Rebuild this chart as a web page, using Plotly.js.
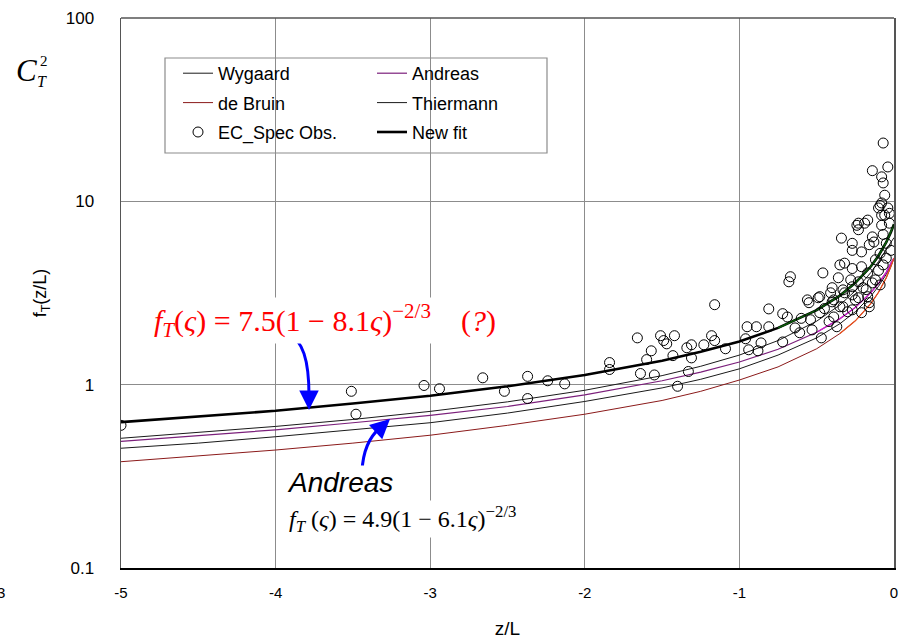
<!DOCTYPE html>
<html>
<head>
<meta charset="utf-8">
<script src="https://cdn.plot.ly/plotly-3.0.1.min.js"></script>
<style>html,body{margin:0;padding:0;background:#fff;}#chart{width:906px;height:641px;}</style>
</head>
<body>
<div id="chart"></div>
<script>
// z/L sample positions for the model curves
const curveX = [-5, -4.5, -4, -3.5, -3, -2.5, -2, -1.5, -1.25, -1, -0.75, -0.5, -0.35, -0.25, -0.15, -0.1, -0.05, -0.02, 0];
// Curves
const wygaardY   = [0.45, 0.48, 0.52, 0.566, 0.62, 0.70, 0.81, 0.96, 1.07, 1.22, 1.45, 1.80, 2.15, 2.50, 3.04, 3.44, 4.0, 4.49, 4.9];
const andreasY   = [0.49, 0.526, 0.567, 0.62, 0.68, 0.76, 0.88, 1.05, 1.17, 1.33, 1.56, 1.93, 2.29, 2.64, 3.18, 3.57, 4.1, 4.6, 4.9];
const deBruinY   = [0.38, 0.41, 0.44, 0.48, 0.53, 0.60, 0.69, 0.82, 0.92, 1.06, 1.25, 1.57, 1.90, 2.23, 2.77, 3.19, 3.83, 4.39, 4.9];
const thiermannY = [0.51, 0.547, 0.592, 0.646, 0.715, 0.806, 0.932, 1.12, 1.26, 1.45, 1.74, 2.22, 2.72, 3.25, 4.09, 4.70, 5.49, 6.01, 6.34];
const newFitY    = [0.625, 0.67, 0.72, 0.79, 0.87, 0.98, 1.13, 1.35, 1.51, 1.72, 2.04, 2.55, 3.06, 3.59, 4.41, 5.05, 5.98, 6.79, 7.5];

// EC_Spec observations
const obsX = [-5.00,-3.51,-3.48,-3.04,-2.94,-2.66,-2.52,-2.37,-2.37,-2.24,-2.13,-1.84,-1.84,-1.66,-1.57,-1.60,-1.64,-1.55,-1.51,-1.49,
  -1.42,-1.47,-1.43,-1.16,-1.34,-1.31,-1.31,-1.33,-1.40,-1.23,-1.18,-1.16,-1.09,-0.95,-0.96,-0.89,-0.81,-0.81,-0.86,-0.88,
  -0.94,-0.72,-0.69,-0.68,-0.67,-0.72,-0.64,-0.61,-0.55,-0.54,-0.53,-0.48,-0.47,-0.48,-0.41,-0.42,-0.37,-0.40,-0.35,-0.32,
  -0.27,-0.23,-0.16,-0.21,-0.14,-0.56,-0.49,-0.39,-0.33,-0.39,-0.27,-0.17,-0.09,-0.46,-0.35,-0.32,-0.27,-0.21,-0.17,-0.36,
  -0.28,-0.23,-0.12,-0.07,-0.40,-0.33,-0.27,-0.20,-0.34,-0.27,-0.27,-0.21,-0.16,-0.14,-0.07,-0.09,-0.05,-0.23,-0.19,-0.23,
  -0.08,-0.03,-0.17,-0.24,-0.09,-0.04,-0.06,-0.07,-0.14,-0.04,-0.08,-0.07,-0.06,-0.08,-0.10,-0.03,-0.08,-0.12,-0.05,-0.02,
  -0.10,-0.18,-0.25,-0.30,-0.45,-0.60,-0.16,-0.13];
const obsY = [0.60,0.92,0.69,0.99,0.95,1.09,0.92,1.11,0.84,1.05,1.01,1.32,1.21,1.80,1.53,1.37,1.15,1.13,1.85,1.74,
  1.85,1.67,1.44,2.73,1.59,1.65,1.40,1.18,0.98,1.65,1.85,1.74,1.57,2.07,1.78,2.07,2.59,2.07,1.69,1.53,
  1.55,2.44,2.34,3.64,3.88,1.71,2.04,1.92,2.80,2.26,1.99,3.02,1.80,2.47,3.17,2.21,2.07,2.83,2.66,3.17,
  3.42,2.98,2.80,2.47,3.59,2.90,2.98,2.90,2.66,2.34,2.56,3.02,3.50,4.07,4.50,4.60,4.30,4.40,4.07,3.83,
  3.73,3.64,3.73,4.50,3.38,3.29,3.09,3.38,6.30,5.90,5.40,5.30,5.80,6.40,6.60,5.20,5.90,7.60,7.60,7.00,
  7.40,7.60,7.90,7.40,9.50,9.20,8.40,20.8,14.7,15.4,13.6,12.6,10.8,9.8,9.2,8.6,8.4,4.8,4.9,5.4,
  4.2,3.3,2.9,2.5,2.6,2.3,2.66,6.0];

const xTicks = [-5, -4, -3, -2, -1, 0];
const yTicks = [0.1, 1, 10, 100];
const yTickText = ['0.1', '1', '10', '100'];

function tail(arr, from) { return arr.filter((v, i) => curveX[i] >= from); }

const traces = [
  {x: curveX, y: wygaardY, mode: 'lines', name: 'Wygaard', line: {color: '#1a1a1a', width: 1}, legend: 'legend', legendgroup: 'a'},
  {x: curveX, y: deBruinY, mode: 'lines', name: 'de Bruin', line: {color: '#8b1a1a', width: 1}, legend: 'legend', legendgroup: 'b'},
  {x: curveX, y: andreasY, mode: 'lines', name: 'Andreas', line: {color: '#7b1f7b', width: 1.2}, legend: 'legend2', legendgroup: 'd'},
  {x: curveX, y: thiermannY, mode: 'lines', name: 'Thiermann', line: {color: '#1a1a1a', width: 1}, legend: 'legend2', legendgroup: 'e'},
  {x: curveX, y: newFitY, mode: 'lines', name: 'New fit', line: {color: '#000', width: 2.6}, legend: 'legend2', legendgroup: 'f'},
  {x: tail(curveX, -0.8), y: tail(newFitY, -0.8), mode: 'lines', showlegend: false, line: {color: '#0a5a0a', width: 1.6}, hoverinfo: 'skip'},
  {x: tail(curveX, -0.6), y: tail(andreasY, -0.6), mode: 'lines', showlegend: false, line: {color: '#d21ad2', width: 1.2}, hoverinfo: 'skip'},
  {x: tail(curveX, -0.35), y: tail(deBruinY, -0.35), mode: 'lines', showlegend: false, line: {color: '#e8501e', width: 1.2}, hoverinfo: 'skip'},
  {x: obsX, y: obsY, mode: 'markers', name: 'EC_Spec Obs.', marker: {symbol: 'circle-open', size: 10, color: '#000', line: {width: 1}}, legend: 'legend', legendgroup: 'c'}
];

const px = v => (v - 121) / 773;
const py = v => (568 - v) / 550;
const serif = 'Liberation Serif, Times New Roman, serif';

function note(x, y, text, font, extra) {
  return Object.assign({xref: 'paper', yref: 'paper', x: px(x), y: py(y), xanchor: 'center', yanchor: 'middle',
    showarrow: false, text: text, font: font}, extra || {});
}

const layout = {
  width: 906, height: 641,
  margin: {l: 121, r: 12, t: 18, b: 73},
  paper_bgcolor: '#fff', plot_bgcolor: '#fff',
  font: {family: 'Liberation Sans, Arial, sans-serif', color: '#000'},
  xaxis: {
    range: [-5, 0], tickvals: xTicks, ticktext: xTicks.map(String),
    showgrid: true, gridcolor: '#8c8c8c', gridwidth: 1, zeroline: false,
    showline: true, linecolor: '#000', linewidth: 2,
    ticks: 'outside', ticklen: 10, tickcolor: 'rgba(0,0,0,0)',
    tickfont: {family: 'Liberation Sans Narrow, Arial Narrow, Liberation Sans, Arial', size: 15},
    title: {text: 'z/L', font: {family: 'Liberation Sans Narrow, Arial Narrow, Liberation Sans', size: 19}, standoff: 22}
  },
  yaxis: {
    type: 'log', range: [-1, 2], tickvals: yTicks, ticktext: yTickText,
    showgrid: true, gridcolor: '#8c8c8c', gridwidth: 1, zeroline: false,
    showline: true, linecolor: '#555', linewidth: 1.5, mirror: true,
    ticks: 'outside', ticklen: 22, tickcolor: 'rgba(0,0,0,0)',
    tickfont: {size: 17},
    title: {text: 'f<sub>T</sub>(z/L)', font: {size: 18}, standoff: 14}
  },
  showlegend: true,
  legend: {x: px(178), y: py(55), xanchor: 'left', yanchor: 'top', bgcolor: 'rgba(0,0,0,0)', borderwidth: 0,
    font: {size: 18}, tracegroupgap: 3, traceorder: 'grouped'},
  legend2: {x: px(372), y: py(55), xanchor: 'left', yanchor: 'top', bgcolor: 'rgba(0,0,0,0)', borderwidth: 0,
    font: {size: 18}, tracegroupgap: 3, traceorder: 'grouped'},
  shapes: [
    {type: 'rect', xref: 'paper', yref: 'paper', x0: px(165), x1: px(547), y0: py(153), y1: py(58),
     line: {color: '#8c8c8c', width: 1.2}, fillcolor: '#fff', layer: 'between'},
    {type: 'line', xref: 'paper', yref: 'paper', x0: 0, x1: 1, y0: 1, y1: 1, line: {color: '#555', width: 1.5}},
    {type: 'path', xref: 'paper', yref: 'paper',
     path: `M ${px(287)} ${py(333)} C ${px(303)} ${py(340)} ${px(309)} ${py(360)} ${px(309)} ${py(396)}`,
     line: {color: '#0000ff', width: 3}},
    {type: 'path', xref: 'paper', yref: 'paper',
     path: `M ${px(362)} ${py(471)} C ${px(363)} ${py(452)} ${px(368)} ${py(438)} ${px(380)} ${py(428)}`,
     line: {color: '#0000ff', width: 3}}
  ],
  annotations: [
    note(325, 320, '<i>f</i><sub><i>T</i></sub>(<i>ς</i>)&#160;=&#160;7.5(1&#160;−&#160;8.1<i>ς</i>)<sup>−2/3</sup>&#160;&#160;&#160;&#160;(<i>?</i>)',
      {family: serif, size: 30, color: '#ff0000'}, {bgcolor: '#fff'}),
    note(340, 482, '<i>Andreas</i>', {family: 'Liberation Sans, Arial, sans-serif', size: 28, color: '#000'}, {bgcolor: '#fff'}),
    note(403, 519, '<i>f</i><sub><i>T</i></sub>&#160;(<i>ς</i>)&#160;=&#160;4.9(1&#160;−&#160;6.1<i>ς</i>)<sup>−2/3</sup>',
      {family: serif, size: 24, color: '#000'}, {bgcolor: '#fff'}),
    {xref: 'paper', yref: 'paper', x: px(309), y: py(410), ax: 0, ay: -16, showarrow: true,
     arrowhead: 2, arrowsize: 1.3, arrowwidth: 3, arrowcolor: '#0000ff', text: ''},
    {xref: 'paper', yref: 'paper', x: px(390), y: py(419), ax: -12, ay: 11, showarrow: true,
     arrowhead: 2, arrowsize: 1.3, arrowwidth: 3, arrowcolor: '#0000ff', text: ''},
    note(26, 70, '<i>C</i>', {family: serif, size: 31}),
    note(44, 61, '2', {family: serif, size: 15}),
    note(42, 82, '<i>T</i>', {family: serif, size: 16}),
    note(1, 592, '3', {size: 15})
  ]
};

Plotly.newPlot('chart', traces, layout, {displayModeBar: false, staticPlot: true});
</script>
</body>
</html>
